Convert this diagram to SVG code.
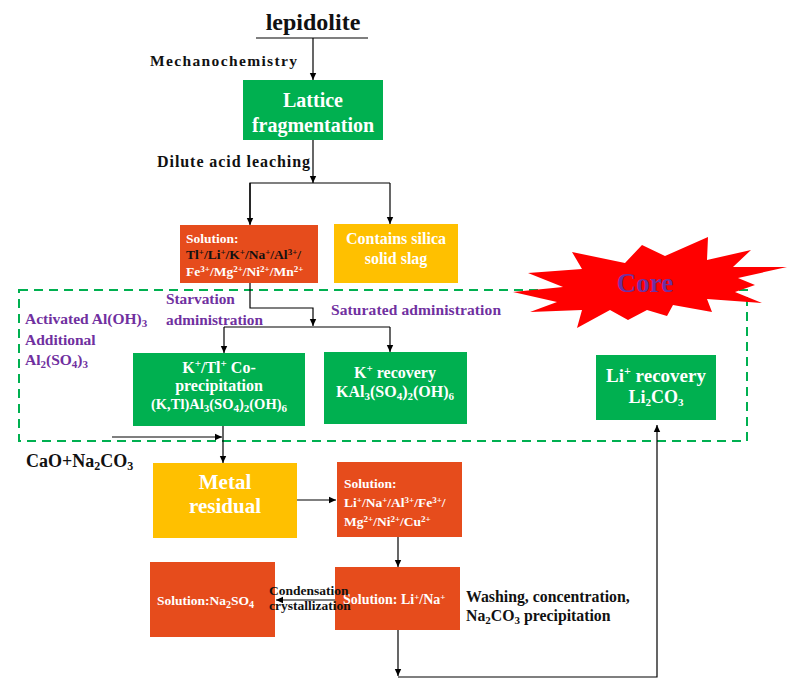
<svg xmlns="http://www.w3.org/2000/svg" width="787" height="679" viewBox="0 0 787 679">
<defs>
<marker id="ah" markerUnits="userSpaceOnUse" markerWidth="8" markerHeight="8" refX="7" refY="4" orient="auto">
<path d="M0,0.8 L7,4 L0,7.2 z" fill="#000"/>
</marker>
<style>
text{font-family:"Liberation Serif","Times New Roman",serif;font-weight:bold}
.w{fill:#fff}
.k{fill:#111}
.p{fill:#7030A0}
.c{text-anchor:middle}
.g{fill:#00B050}
.o{fill:#E64C1C}
.y{fill:#FFC000}
.ln{fill:none;stroke:#000;stroke-width:1.2}
.ar{fill:none;stroke:#000;stroke-width:1.2;marker-end:url(#ah)}
</style>
</defs>
<rect width="787" height="679" fill="#fff"/>

<g id="core-region">
<rect x="19" y="290" width="728" height="151" fill="none" stroke="#00B050" stroke-width="2" stroke-dasharray="9,6"/>
</g>

<g id="core-star">
<polygon fill="#FF0000" points="513,292 563,287 528,273 582,269 572,252 625,263 642,245 665,256 708,237 707,260 751,250 733,267 787,267 738,278 755,285 735,292 762,303 707,299 712,312 673,305 667,316 647,310 628,320 610,310 577,328 582,310 530,312 557,302"/>
<text x="645" y="292" class="p c" font-size="27">Core</text>
</g>

<g id="connectors">
<line x1="256" y1="38" x2="368" y2="38" class="ln"/>
<line x1="313" y1="38" x2="313" y2="80" class="ar"/>
<line x1="313" y1="140" x2="313" y2="183" class="ar"/>
<polyline points="250,224 250,183 390,183" class="ln"/>
<line x1="250" y1="183" x2="250" y2="225" class="ar"/>
<line x1="390" y1="183" x2="390" y2="224" class="ar"/>
<polyline points="250,283 250,308 313,308 313,326" class="ar"/>
<line x1="224" y1="327" x2="390" y2="327" class="ln"/>
<line x1="224" y1="327" x2="224" y2="353" class="ar"/>
<line x1="390" y1="327" x2="390" y2="352" class="ar"/>
<line x1="223" y1="426" x2="223" y2="463" class="ar"/>
<line x1="112" y1="437" x2="222" y2="437" class="ar"/>
<line x1="297" y1="500" x2="336" y2="500" class="ar"/>
<line x1="398" y1="537" x2="398" y2="567" class="ar"/>
<line x1="335" y1="600" x2="276" y2="600" class="ar"/>
<line x1="398" y1="630" x2="398" y2="676" class="ar"/>
<polyline points="398,677 657,677 657,425" class="ar"/>
</g>

<g id="lepidolite">
<text x="313" y="30" class="k c" font-size="24">lepidolite</text>
</g>
<g id="label-mechanochemistry"><text x="150" y="66" class="k" font-size="15.5" textLength="147" lengthAdjust="spacing">Mechanochemistry</text></g>

<g id="lattice">
<rect x="243" y="80" width="140" height="60" class="g"/>
<text x="313" y="107" class="w c" font-size="20">Lattice</text>
<text x="313" y="132" class="w c" font-size="20">fragmentation</text>
</g>

<g id="label-dilute"><text x="157" y="167" class="k" font-size="16" textLength="153" lengthAdjust="spacing">Dilute acid leaching</text></g>

<g id="solution1">
<rect x="180" y="225" width="138" height="58" class="o"/>
<text x="186" y="243" class="w" font-size="13.5">Solution:</text>
<text x="186" y="259" class="k" font-size="13.5">Tl<tspan font-size="9" dy="-4">+</tspan><tspan dy="4">/Li</tspan><tspan font-size="9" dy="-4">+</tspan><tspan dy="4">/K</tspan><tspan font-size="9" dy="-4">+</tspan><tspan dy="4">/Na</tspan><tspan font-size="9" dy="-4">+</tspan><tspan dy="4">/Al</tspan><tspan font-size="9" dy="-4">3+</tspan><tspan dy="4">/</tspan></text>
<text x="186" y="276" class="w" font-size="13.5">Fe<tspan font-size="9" dy="-4">3+</tspan><tspan dy="4">/Mg</tspan><tspan font-size="9" dy="-4">2+</tspan><tspan dy="4">/Ni</tspan><tspan font-size="9" dy="-4">2+</tspan><tspan dy="4">/Mn</tspan><tspan font-size="9" dy="-4">2+</tspan></text>
</g>

<g id="slag">
<rect x="334" y="224" width="124" height="59" class="y"/>
<text x="396" y="244" class="w c" font-size="16">Contains silica</text>
<text x="396" y="264" class="w c" font-size="16">solid slag</text>
</g>

<g id="label-activated">
<text x="25" y="324" class="p" font-size="15.5">Activated Al(OH)<tspan font-size="11" dy="3">3</tspan></text>
<text x="25" y="345" class="p" font-size="15.5">Additional</text>
<text x="25" y="365" class="p" font-size="15.5">Al<tspan font-size="11" dy="3">2</tspan><tspan dy="-3">(SO</tspan><tspan font-size="11" dy="3">4</tspan><tspan dy="-3">)</tspan><tspan font-size="11" dy="3">3</tspan></text>
</g>
<g id="label-starvation">
<text x="166" y="304" class="p" font-size="15.3">Starvation</text>
<text x="166" y="325" class="p" font-size="15.3">administration</text>
</g>
<g id="label-saturated"><text x="331" y="315" class="p" font-size="15.5" textLength="170" lengthAdjust="spacing">Saturated administration</text></g>

<g id="coprecip">
<rect x="133" y="353" width="172" height="73" class="g"/>
<text x="219" y="373" class="w c" font-size="16">K<tspan font-size="11" dy="-6">+</tspan><tspan dy="6">/Tl</tspan><tspan font-size="11" dy="-6">+</tspan><tspan dy="6"> Co-</tspan></text>
<text x="219" y="391" class="w c" font-size="16">precipitation</text>
<text x="219" y="409" class="w c" font-size="14.5">(K,Tl)Al<tspan font-size="11" dy="3">3</tspan><tspan dy="-3">(SO</tspan><tspan font-size="11" dy="3">4</tspan><tspan dy="-3">)</tspan><tspan font-size="11" dy="3">2</tspan><tspan dy="-3">(OH)</tspan><tspan font-size="11" dy="3">6</tspan></text>
</g>

<g id="krecovery">
<rect x="324" y="352" width="143" height="72" class="g"/>
<text x="395" y="378" class="w c" font-size="16">K<tspan font-size="11" dy="-6">+</tspan><tspan dy="6"> recovery</tspan></text>
<text x="395" y="397" class="w c" font-size="16">KAl<tspan font-size="11" dy="3">3</tspan><tspan dy="-3">(SO</tspan><tspan font-size="11" dy="3">4</tspan><tspan dy="-3">)</tspan><tspan font-size="11" dy="3">2</tspan><tspan dy="-3">(OH)</tspan><tspan font-size="11" dy="3">6</tspan></text>
</g>

<g id="lirecovery">
<rect x="596" y="355" width="120" height="65" class="g"/>
<text x="656" y="382" class="w c" font-size="19">Li<tspan font-size="12" dy="-7">+</tspan><tspan dy="7"> recovery</tspan></text>
<text x="656" y="403" class="w c" font-size="18">Li<tspan font-size="11" dy="3">2</tspan><tspan dy="-3">CO</tspan><tspan font-size="11" dy="3">3</tspan></text>
</g>

<g id="label-cao"><text x="26" y="467" class="k" font-size="18">CaO+Na<tspan font-size="12" dy="3">2</tspan><tspan dy="-3">CO</tspan><tspan font-size="12" dy="3">3</tspan></text></g>

<g id="metal">
<rect x="153" y="463" width="144" height="75" class="y"/>
<text x="225" y="489" class="w c" font-size="21">Metal</text>
<text x="225" y="513" class="w c" font-size="21">residual</text>
</g>

<g id="solution2">
<rect x="337" y="462" width="125" height="75" class="o"/>
<text x="344" y="488" class="w" font-size="13.5">Solution:</text>
<text x="344" y="507" class="w" font-size="13.5">Li<tspan font-size="9" dy="-4">+</tspan><tspan dy="4">/Na</tspan><tspan font-size="9" dy="-4">+</tspan><tspan dy="4">/Al</tspan><tspan font-size="9" dy="-4">3+</tspan><tspan dy="4">/Fe</tspan><tspan font-size="9" dy="-4">3+</tspan><tspan dy="4">/</tspan></text>
<text x="344" y="526" class="w" font-size="13.5">Mg<tspan font-size="9" dy="-4">2+</tspan><tspan dy="4">/Ni</tspan><tspan font-size="9" dy="-4">2+</tspan><tspan dy="4">/Cu</tspan><tspan font-size="9" dy="-4">2+</tspan></text>
</g>

<g id="na2so4">
<rect x="150" y="562" width="125" height="75" class="o"/>
<text x="157" y="605" class="w" font-size="13.5">Solution:Na<tspan font-size="10" dy="3">2</tspan><tspan dy="-3">SO</tspan><tspan font-size="10" dy="3">4</tspan></text>
</g>

<g id="lina">
<rect x="335" y="567" width="125" height="63" class="o"/>
<text x="343" y="604" class="w" font-size="14">Solution: Li<tspan font-size="9" dy="-4">+</tspan><tspan dy="4">/Na</tspan><tspan font-size="9" dy="-4">+</tspan></text>
</g>

<g id="label-condensation">
<text x="269" y="595" class="k" font-size="13.5">Condensation</text>
<text x="269" y="610" class="k" font-size="13.5">crystallization</text>
</g>

<g id="label-washing">
<text x="466" y="602" class="k" font-size="15.8">Washing, concentration,</text>
<text x="466" y="621" class="k" font-size="15.8">Na<tspan font-size="11" dy="3">2</tspan><tspan dy="-3">CO</tspan><tspan font-size="11" dy="3">3</tspan><tspan dy="-3"> precipitation</tspan></text>
</g>
</svg>
